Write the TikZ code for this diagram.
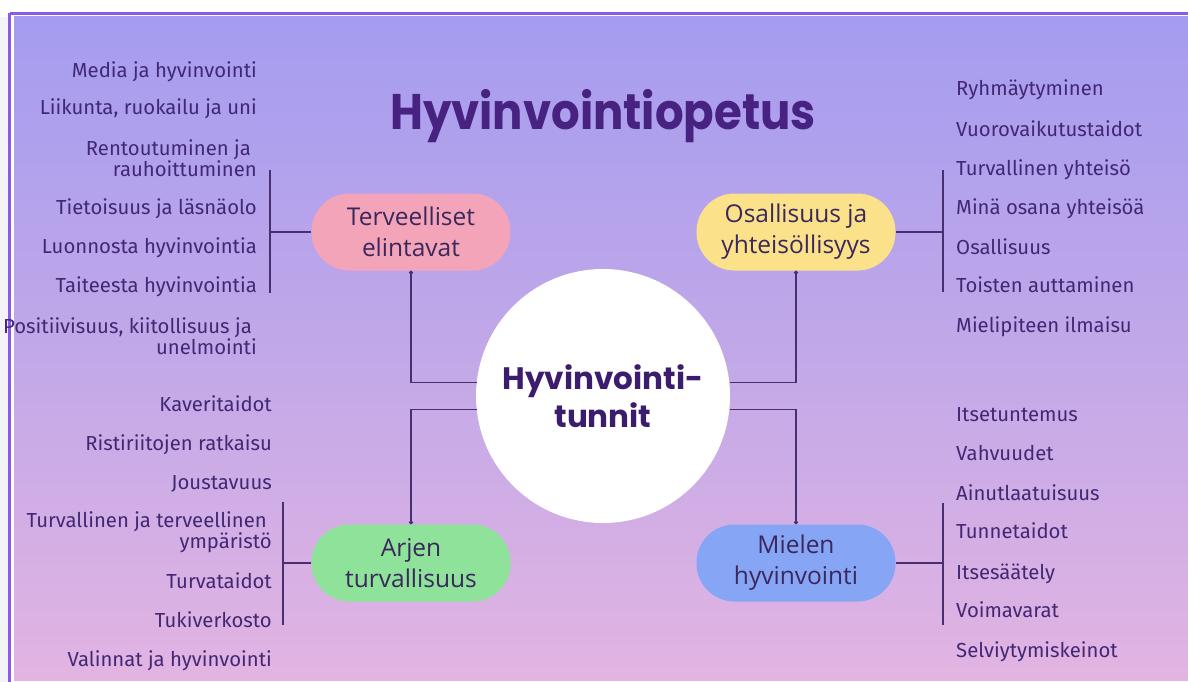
\documentclass[tikz,border=0pt]{standalone}
\usepackage{fontspec}
\setmainfont{Fira Sans}
\newfontfamily\titlefont{Poppins}
\newfontfamily\pillfont{Open Sans}
\usetikzlibrary{arrows.meta}
\definecolor{bgtop}{RGB}{165,156,240}
\definecolor{bgmid}{RGB}{193,168,232}
\definecolor{bgbot}{RGB}{226,180,226}
\definecolor{outerc}{RGB}{244,244,248}
\definecolor{frame}{RGB}{140,90,235}
\definecolor{titlec}{RGB}{72,34,128}
\definecolor{centrec}{RGB}{60,28,108}
\definecolor{itemc}{RGB}{66,40,116}
\definecolor{pillc}{RGB}{58,40,92}
\definecolor{linec}{RGB}{72,48,112}
\definecolor{pinkc}{RGB}{244,164,184}
\definecolor{yellowc}{RGB}{251,226,138}
\definecolor{greenc}{RGB}{142,226,154}
\definecolor{bluec}{RGB}{134,166,245}
\begin{document}
\begin{tikzpicture}[x=1pt,y=-1pt,
  itemL/.style={anchor=base east, inner sep=0pt, text=itemc, font=\fontsize{20.3}{18.5}\selectfont},
  itemR/.style={anchor=base west, inner sep=0pt, text=itemc, font=\fontsize{20.3}{18.5}\selectfont},
  itemL2/.style={anchor=east, inner sep=0pt, text=itemc, align=right, font=\fontsize{20.3}{18.5}\selectfont},
  pill/.style={rounded corners=38pt, minimum width=199pt, minimum height=77pt, inner sep=0pt,
    align=center, text=pillc, font=\pillfont\fontsize{24.5}{31}\selectfont},
  conn/.style={draw=linec, line width=1.2pt, -{Circle[length=4pt]}},
  brk/.style={draw=linec, line width=1.2pt}]
\useasboundingbox (0,0) rectangle (1188,682);
\fill[white] (0,0) rectangle (1188,682);
\fill[outerc] (0,17) rectangle (8,682);
\shade[top color=bgtop, bottom color=bgbot, middle color=bgmid] (14,17) rectangle (1188,680);
\draw[frame, line width=2.5pt] (9.5,13.5) -- (1188,13.5);
\draw[frame, line width=2.5pt] (9.5,13.5) -- (9.5,682);

% title
\node[anchor=base, inner sep=0pt, text=titlec] (title) at (603,130)
  {\titlefont\bfseries\fontsize{50}{50}\selectfont\scalebox{0.90}[1]{Hyvinvointiopetus}};

% centre
\node[circle, fill=white, minimum size=254pt, inner sep=0pt, align=center, text=centrec,
  font=\titlefont\bfseries\fontsize{31}{38}\selectfont] (c) at (603,396) {Hyvinvointi-\\tunnit};

% pills
\node[pill, fill=pinkc] (p1) at (411,232) {Terveelliset\\elintavat};
\node[pill, fill=yellowc] (p2) at (796,232) {Osallisuus ja\\yhteisöllisyys};
\node[pill, fill=greenc] (p3) at (411,563) {Arjen\\turvallisuus};
\node[pill, fill=bluec] (p4) at (796,563) {Mielen\\hyvinvointi};

% connectors from centre
\draw[conn] (c.174) -| (p1.south);
\draw[conn] (c.6) -| (p2.south);
\draw[conn] (c.186) -| (p3.north);
\draw[conn] (c.354) -| (p4.north);

% brackets
\coordinate (b1t) at (270,170); \coordinate (b1b) at (270,293);
\coordinate (b2t) at (943,170); \coordinate (b2b) at (943,292);
\coordinate (b3t) at (283,502); \coordinate (b3b) at (283,625);
\coordinate (b4t) at (943,503); \coordinate (b4b) at (943,625);
\draw[brk] (b1t) -- (b1b); \draw[brk] (p1.west) -- (p1.west -| b1t);
\draw[brk] (b2t) -- (b2b); \draw[brk] (p2.east) -- (p2.east -| b2t);
\draw[brk] (b3t) -- (b3b); \draw[brk] (p3.west) -- (p3.west -| b3t);
\draw[brk] (b4t) -- (b4b); \draw[brk] (p4.east) -- (p4.east -| b4t);

% left top items
\node[itemL] (a1) at (257,78) {Media ja hyvinvointi};
\node[itemL] (a2) at (257,115) {Liikunta, ruokailu ja uni};
\node[itemL2] (a3) at (257,158) {Rentoutuminen ja\hspace*{6pt}\\rauhoittuminen};
\node[itemL] (a4) at (257,214) {Tietoisuus ja läsnäolo};
\node[itemL] (a5) at (257,253) {Luonnosta hyvinvointia};
\node[itemL] (a6) at (257,292) {Taiteesta hyvinvointia};
\node[itemL2] (a7) at (257,336) {Positiivisuus, kiitollisuus ja\hspace*{5pt}\\unelmointi};

% right top items
\node[itemR] (r1) at (956,96) {Ryhmäytyminen};
\node[itemR] (r2) at (956,136) {Vuorovaikutustaidot};
\node[itemR] (r3) at (956,175) {Turvallinen yhteisö};
\node[itemR] (r4) at (956,214) {Minä osana yhteisöä};
\node[itemR] (r5) at (956,254) {Osallisuus};
\node[itemR] (r6) at (956,292) {Toisten auttaminen};
\node[itemR] (r7) at (956,332) {Mielipiteen ilmaisu};

% left bottom items
\node[itemL] (l1) at (272,411) {Kaveritaidot};
\node[itemL] (l2) at (272,450) {Ristiriitojen ratkaisu};
\node[itemL] (l3) at (272,489) {Joustavuus};
\node[itemL2] (l4) at (272,532) {Turvallinen ja terveellinen\hspace*{5pt}\\ympäristö};
\node[itemL] (l5) at (272,588) {Turvataidot};
\node[itemL] (l6) at (272,627) {Tukiverkosto};
\node[itemL] (l7) at (272,666) {Valinnat ja hyvinvointi};

% right bottom items
\node[itemR] (m1) at (956,421) {Itsetuntemus};
\node[itemR] (m2) at (956,460) {Vahvuudet};
\node[itemR] (m3) at (956,500) {Ainutlaatuisuus};
\node[itemR] (m4) at (956,538) {Tunnetaidot};
\node[itemR] (m5) at (956,579) {Itsesäätely};
\node[itemR] (m6) at (956,617) {Voimavarat};
\node[itemR] (m7) at (956,657) {Selviytymiskeinot};
\end{tikzpicture}
\end{document}
